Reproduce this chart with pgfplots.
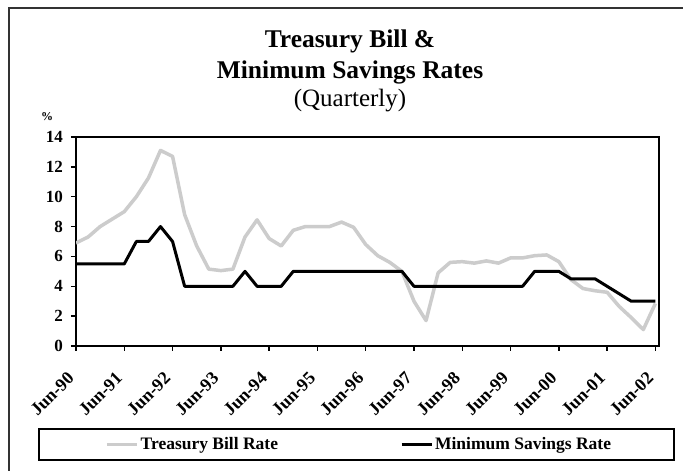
\documentclass[border=0pt]{standalone}
\usepackage{fontspec}
\setmainfont{Liberation Serif}
\usepackage{pgfplots}
\pgfplotsset{compat=1.18}
\definecolor{tbill}{RGB}{204,204,204}
\begin{document}
\begin{tikzpicture}[x=1pt,y=1pt]
\useasboundingbox (0,0) rectangle (683,471);
\fill[white] (0,0) rectangle (683,471);
\draw[line width=2pt, black!80] (9,0) -- (9,463) -- (683,463);
\node[anchor=base, inner sep=0pt, font=\bfseries\fontsize{25.5}{30}\selectfont] at (350,423.7) {Treasury Bill \&};
\node[anchor=base, inner sep=0pt, font=\bfseries\fontsize{25.5}{30}\selectfont] at (350,392.7) {Minimum Savings Rates};
\node[anchor=base, inner sep=0pt, font=\fontsize{25}{30}\selectfont] at (350,364) {(Quarterly)};
\node[anchor=base west, inner sep=0pt, font=\bfseries\fontsize{12}{12}\selectfont] at (41,350) {\%};
\draw[line width=2pt] (39,11) rectangle (674,42);
\begin{axis}[
  at={(76pt,125pt)}, anchor=south west,
  scale only axis, width=583pt, height=209pt,
  xmin=0, xmax=48.3, ymin=0, ymax=14,
  xtick={0,4,...,48},
  xticklabels={Jun-90,Jun-91,Jun-92,Jun-93,Jun-94,Jun-95,Jun-96,Jun-97,Jun-98,Jun-99,Jun-00,Jun-01,Jun-02},
  ytick={0,2,...,14},
  tick align=outside, tick pos=left,
  major tick length=5pt,
  every tick/.style={black, line width=1.5pt},
  axis line style={line width=2pt},
  /pgf/number format/assume math mode=true,
  yticklabel style={font=\bfseries\fontsize{17}{17}\selectfont, anchor=east, inner sep=0pt, xshift=-8pt},
  xticklabel style={font=\bfseries\fontsize{18}{18}\selectfont, xshift=-5pt, yshift=-24pt, rotate=45, anchor=east, inner sep=0pt},
  legend columns=2,
  legend style={draw=none, fill=none, at={(0.0497,-0.471)}, anchor=west,
    inner sep=0pt, font=\bfseries\fontsize{17.5}{17.5}\selectfont,
    /tikz/every even column/.append style={column sep=120pt}},
  legend image code/.code={\draw[#1] (0pt,0pt) -- (30pt,0pt);},
]
\addplot[tbill, line width=3.5pt, line join=round] coordinates {
(0,6.9)(1,7.3)(2,8.0)(3,8.5)(4,9.0)(5,10.0)(6,11.25)(7,13.1)(8,12.7)(9,8.8)
(10,6.7)(11,5.15)(12,5.05)(13,5.15)(14,7.3)(15,8.45)(16,7.2)(17,6.7)(18,7.75)(19,8.0)
(20,8.0)(21,8.0)(22,8.3)(23,7.95)(24,6.8)(25,6.05)(26,5.6)(27,5.0)(28,3.0)(29,1.7)
(30,4.9)(31,5.6)(32,5.65)(33,5.55)(34,5.7)(35,5.55)(36,5.9)(37,5.9)(38,6.05)(39,6.1)
(40,5.65)(41,4.45)(42,3.85)(43,3.7)(44,3.6)(45,2.65)(46,1.9)(47,1.1)(48,2.85)};
\addlegendentry{Treasury Bill Rate}
\addplot[black, line width=3pt, line join=round] coordinates {
(0,5.5)(1,5.5)(2,5.5)(3,5.5)(4,5.5)(5,7)(6,7)(7,8)(8,7)(9,4)
(10,4)(11,4)(12,4)(13,4)(14,5)(15,4)(16,4)(17,4)(18,5)(19,5)
(20,5)(21,5)(22,5)(23,5)(24,5)(25,5)(26,5)(27,5)(28,4)(29,4)
(30,4)(31,4)(32,4)(33,4)(34,4)(35,4)(36,4)(37,4)(38,5)(39,5)
(40,5)(41,4.5)(42,4.5)(43,4.5)(44,4)(45,3.5)(46,3)(47,3)(48,3)};
\addlegendentry{Minimum Savings Rate}
\end{axis}
\end{tikzpicture}
\end{document}
